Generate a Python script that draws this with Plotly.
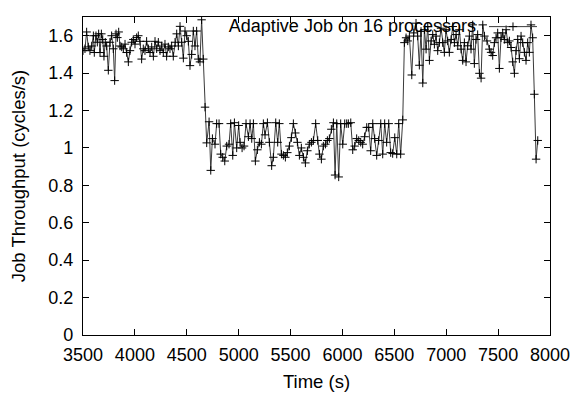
import plotly.graph_objects as go

# ---- data ----
time_s = [
    3500, 3519, 3535, 3551, 3567, 3584, 3600, 3609, 3625, 3638, 3651, 3664, 3677, 3690, 3702, 3715,
    3728, 3744, 3760, 3776, 3792, 3805, 3818, 3831, 3844, 3857, 3873, 3889, 3905, 3921, 3937, 3953,
    3969, 3985, 4001, 4017, 4033, 4049, 4065, 4081, 4097, 4113, 4130, 4146, 4162, 4178, 4194, 4210,
    4226, 4242, 4258, 4274, 4290, 4306, 4322, 4338, 4354, 4370, 4387, 4403, 4419, 4435, 4451, 4467,
    4483, 4499, 4515, 4531, 4547, 4563, 4579, 4595, 4611, 4627, 4643, 4659,
    4676, 4692, 4715, 4731, 4747, 4772, 4788, 4811, 4827, 4846, 4866, 4885, 4907, 4923, 4943, 4959,
    4981, 5000, 5013, 5033, 5052, 5071, 5094, 5110, 5126, 5142, 5161, 5180, 5200, 5219, 5238, 5254,
    5277, 5296, 5318, 5334, 5357, 5376, 5392, 5412, 5431, 5450, 5469, 5489, 5508, 5527, 5546, 5566,
    5585, 5604, 5624, 5643, 5662, 5681, 5701, 5720, 5742, 5762, 5778, 5797, 5816, 5836, 5855, 5874,
    5893, 5913, 5929, 5945, 5964, 5983, 6003, 6022, 6041, 6057, 6080, 6099, 6118, 6137, 6157, 6176,
    6195, 6214, 6234, 6253, 6272, 6292, 6311, 6330, 6349, 6369, 6388, 6407, 6426, 6446, 6465, 6484,
    6504, 6523, 6542, 6561, 6581,
    6597, 6613, 6629, 6645, 6668, 6687, 6709, 6725, 6741, 6757, 6774, 6790, 6806, 6822, 6838, 6854,
    6870, 6886, 6902, 6918, 6934, 6950, 6966, 6982, 6998, 7014, 7030, 7047, 7063, 7079, 7095, 7111,
    7127, 7143, 7159, 7175, 7191, 7207, 7223, 7239, 7255, 7271, 7287, 7303, 7320, 7336, 7352, 7368,
    7393, 7416, 7432, 7448, 7464, 7480, 7496, 7512, 7528, 7544, 7560, 7577, 7593, 7609, 7625, 7641,
    7657, 7673, 7689, 7705, 7721, 7737, 7753, 7769, 7785, 7801, 7817, 7833, 7849, 7866, 7882,
]

throughput = [
    1.52, 1.53, 1.62, 1.54, 1.52, 1.545, 1.60, 1.51, 1.60, 1.565, 1.61, 1.51, 1.61, 1.58, 1.49, 1.565,
    1.545, 1.415, 1.565, 1.60, 1.53, 1.36, 1.61, 1.59, 1.62, 1.545, 1.54, 1.53, 1.555, 1.51, 1.46, 1.52,
    1.565, 1.58, 1.555, 1.59, 1.60, 1.57, 1.475, 1.53, 1.52, 1.57, 1.53, 1.51, 1.54, 1.49, 1.57, 1.53,
    1.565, 1.52, 1.545, 1.51, 1.555, 1.49, 1.54, 1.53, 1.545, 1.49, 1.565, 1.61, 1.545, 1.65, 1.565, 1.48,
    1.625, 1.60, 1.57, 1.44, 1.50, 1.625, 1.545, 1.625, 1.475, 1.46, 1.685, 1.475,
    1.218, 1.027, 1.14, 0.88, 1.05, 1.02, 1.13, 1.13, 0.967, 0.95, 0.93, 1.01, 1.02, 1.13, 0.96, 1.135,
    1.00, 1.12, 1.03, 1.00, 1.01, 1.13, 1.06, 1.13, 1.05, 1.13, 0.93, 0.99, 1.03, 1.02, 1.13, 1.07,
    1.135, 1.03, 0.905, 0.95, 1.135, 1.03, 1.13, 0.967, 0.96, 0.95, 0.975, 1.01, 1.055, 1.13, 1.08, 1.03,
    0.96, 1.00, 0.95, 0.92, 0.985, 1.02, 1.03, 1.04, 1.13, 1.04, 0.967, 0.94, 1.01, 1.02, 1.04, 1.05,
    1.10, 1.135, 0.855, 1.13, 0.845, 1.13, 1.02, 1.13, 1.13, 1.13, 1.135, 0.99, 1.01, 1.05, 1.04, 1.03,
    1.02, 1.06, 1.11, 1.11, 0.985, 1.13, 1.05, 0.96, 1.04, 1.13, 0.967, 1.13, 1.03, 1.13, 0.975, 0.97,
    1.055, 0.967, 1.13, 0.967, 1.15,
    1.563, 1.589, 1.572, 1.598, 1.39, 1.615, 1.667, 1.598, 1.442, 1.623, 1.347, 1.632, 1.528, 1.649, 1.468, 1.572,
    1.606, 1.554, 1.598, 1.52, 1.563, 1.64, 1.563, 1.511, 1.632, 1.572, 1.511, 1.58, 1.649, 1.563, 1.606, 1.546,
    1.632, 1.528, 1.468, 1.563, 1.46, 1.546, 1.598, 1.528, 1.658, 1.451, 1.58, 1.606, 1.399, 1.373, 1.658, 1.598,
    1.572, 1.528, 1.511, 1.494, 1.563, 1.589, 1.615, 1.425, 1.589, 1.615, 1.58, 1.632, 1.563, 1.572, 1.537, 1.46,
    1.399, 1.52, 1.58, 1.477, 1.598, 1.563, 1.511, 1.468, 1.563, 1.511, 1.658, 1.589, 1.287, 0.94, 1.04,
]

x_ticks = [3500, 4000, 4500, 5000, 5500, 6000, 6500, 7000, 7500, 8000]
y_ticks = [0, 0.2, 0.4, 0.6, 0.8, 1.0, 1.2, 1.4, 1.6]
series_name = "Adaptive Job on 16 processors"

FONT = "Liberation Sans, Arial, Helvetica, sans-serif"
FS = 18
FS_TITLE = 18.5

fig = go.Figure()
fig.add_trace(go.Scatter(
    x=time_s, y=throughput, mode="lines+markers", name="",
    line=dict(color="#3a3a3a", width=1),
    marker=dict(symbol="cross-thin-open", size=6, color="black",
                line=dict(color="black", width=1)),
    showlegend=True,
))

axis_common = dict(
    showline=True, linecolor="black", linewidth=1.2, mirror="ticks",
    ticks="inside", ticklen=6, tickcolor="black", tickwidth=1,
    showgrid=False, zeroline=False, automargin=False,
    ticklabeloverflow="allow",
    tickfont=dict(family=FONT, size=FS, color="black"),
)

# the page body adds an 8px offset, so the figure is sized/margined to compensate
fig.update_layout(
    width=570, height=388,
    margin=dict(l=75, r=28, t=0, b=61),
    paper_bgcolor="white", plot_bgcolor="white",
    font=dict(family=FONT, size=FS, color="black"),
    xaxis=dict(range=[3500, 8000], tickvals=x_ticks, ticklabelstandoff=3,
               title=dict(text="Time (s)", font=dict(family=FONT, size=FS_TITLE), standoff=11),
               **axis_common),
    yaxis=dict(range=[0, 1.7], tickvals=y_ticks, ticklabelstandoff=5,
               title=dict(text="Job Throughput (cycles/s)", font=dict(family=FONT, size=FS_TITLE), standoff=19),
               **axis_common),
    legend=dict(
        title=dict(text=series_name, side="left", font=dict(family=FONT, size=FS)),
        x=0.308, y=1.027, xanchor="left", yanchor="top",
        bgcolor="rgba(0,0,0,0)", borderwidth=0, itemwidth=48,
        font=dict(family=FONT, size=FS),
    ),
)

fig.write_html("out.html")
